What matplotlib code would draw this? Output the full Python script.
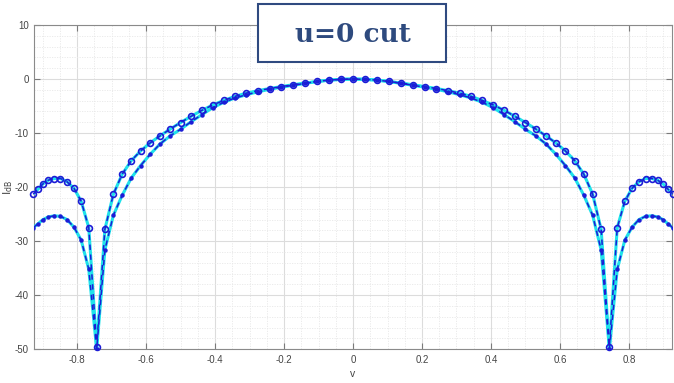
import numpy as np
import matplotlib
matplotlib.use("Agg")
import matplotlib.pyplot as plt
from matplotlib.patches import Rectangle
from matplotlib.ticker import MultipleLocator

plt.rcParams['axes.unicode_minus'] = False
plt.rcParams['font.family'] = ['Liberation Sans', 'DejaVu Sans']

# sample positions v (sin of 2-degree steps, -68..68 deg)
v = [-0.9272, -0.9135, -0.8988, -0.8829, -0.8660, -0.8480, -0.8290, -0.8090, -0.7880,
     -0.7660, -0.7431, -0.7193, -0.6947, -0.6691, -0.6428, -0.6157, -0.5878, -0.5592,
     -0.5299, -0.5000, -0.4695, -0.4384, -0.4067, -0.3746, -0.3420, -0.3090, -0.2756,
     -0.2419, -0.2079, -0.1736, -0.1392, -0.1045, -0.0698, -0.0349, 0.0,
     0.0349, 0.0698, 0.1045, 0.1392, 0.1736, 0.2079, 0.2419, 0.2756, 0.3090, 0.3420,
     0.3746, 0.4067, 0.4384, 0.4695, 0.5000, 0.5299, 0.5592, 0.5878, 0.6157, 0.6428,
     0.6691, 0.6947, 0.7193, 0.7431, 0.7660, 0.7880, 0.8090, 0.8290, 0.8480, 0.8660,
     0.8829, 0.8988, 0.9135, 0.9272]

# upper curve (circles)
upper_db = [-21.3, -20.4, -19.4, -18.7, -18.4, -18.4, -19.0, -20.2, -22.6,
            -27.5, -49.5, -27.8, -21.3, -17.6, -15.1, -13.3, -11.8, -10.5,
            -9.25, -8.05, -6.9, -5.8, -4.8, -3.95, -3.2, -2.6, -2.15,
            -1.75, -1.4, -1.05, -0.75, -0.45, -0.2, -0.05, 0.0,
            -0.05, -0.2, -0.45, -0.75, -1.05, -1.4, -1.75, -2.15, -2.6, -3.2,
            -3.95, -4.8, -5.8, -6.9, -8.05, -9.25, -10.5, -11.8, -13.3, -15.1,
            -17.6, -21.3, -27.8, -49.5, -27.5, -22.6, -20.2, -19.0, -18.4, -18.4,
            -18.7, -19.4, -20.4, -21.3]

# lower curve (dots)
lower_db = [-27.5, -26.8, -26.0, -25.5, -25.3, -25.4, -26.0, -27.4, -29.8,
            -35.2, -50.0, -31.6, -25.2, -21.5, -18.3, -16.0, -13.9, -12.0,
            -10.5, -9.3, -7.9, -6.6, -5.3, -4.3, -3.5, -2.9, -2.35,
            -1.9, -1.5, -1.15, -0.8, -0.45, -0.2, -0.05, 0.0,
            -0.05, -0.2, -0.45, -0.8, -1.15, -1.5, -1.9, -2.35, -2.9, -3.5,
            -4.3, -5.3, -6.6, -7.9, -9.3, -10.5, -12.0, -13.9, -16.0, -18.3,
            -21.5, -25.2, -31.6, -50.0, -35.2, -29.8, -27.4, -26.0, -25.4, -25.3,
            -25.5, -26.0, -26.8, -27.5]

x_ticks = [-0.8, -0.6, -0.4, -0.2, 0, 0.2, 0.4, 0.6, 0.8]
x_labels = ['-0.8', '-0.6', '-0.4', '-0.2', '0', '0.2', '0.4', '0.6', '0.8']
y_ticks = [-50, -40, -30, -20, -10, 0, 10]
title_text = 'u=0 cut'

fig = plt.figure(figsize=(6.74, 3.83), dpi=100)
ax = fig.add_axes([0.0509, 0.088, 0.9457, 0.8467])

cyan = '#1EE2EA'
blue = '#1C1CD6'

ax.plot(v, lower_db, color=cyan, lw=2.2, zorder=3)
ax.plot(v, upper_db, color=cyan, lw=2.2, zorder=3)
ax.plot(v, lower_db, color=blue, lw=1.1, ls=(0, (3.5, 3)), marker='o',
        markersize=2.2, markerfacecolor=blue, markeredgecolor=blue, zorder=4)
ax.plot(v, upper_db, color=blue, lw=1.1, ls=(0, (3.5, 3)), marker='o',
        markersize=4.2, markerfacecolor='none', markeredgecolor=blue,
        markeredgewidth=1.2, zorder=5, clip_on=False)

lim = 0.9239
ax.set_xlim(-lim, lim)
ax.set_ylim(-50, 10)
ax.set_xticks(x_ticks)
ax.set_xticklabels(x_labels)
ax.set_yticks(y_ticks)
ax.xaxis.set_minor_locator(MultipleLocator(0.05))
ax.yaxis.set_minor_locator(MultipleLocator(2))
ax.grid(True, which='major', color='#dcdcdc', lw=0.8)
ax.grid(True, which='minor', color='#e8e8e8', lw=0.6, ls=(0, (1.5, 1.5)))
ax.set_axisbelow(True)
ax.tick_params(which='major', direction='in', length=4, width=0.8, color='#7a7a7a',
               labelsize=7, labelcolor='#444444', top=True, right=True, pad=4)
ax.tick_params(which='minor', length=0, top=True, right=True)
for s in ax.spines.values():
    s.set_color('#8a8a8a')
    s.set_linewidth(0.8)

ax.set_xlabel('v', fontsize=7.5, color='#444444', labelpad=3)
ax.set_ylabel(r'$\mathrm{I}_{\mathrm{dB}}$', fontsize=8, color='#444444')
ax.yaxis.set_label_coords(-0.031, 0.5)

# title box
fig.patches.append(Rectangle((258 / 674, 1 - 61.5 / 383), (446 - 258) / 674, (61.5 - 4) / 383,
                             transform=fig.transFigure, facecolor='white',
                             edgecolor='#2F4A80', lw=1.5, zorder=10))
fig.text(353 / 674, 1 - 34 / 383, title_text, ha='center', va='center',
         fontsize=19, fontweight='bold', family='DejaVu Serif', color='#2E4A7E', zorder=11)

fig.savefig('out.png', dpi=100)
